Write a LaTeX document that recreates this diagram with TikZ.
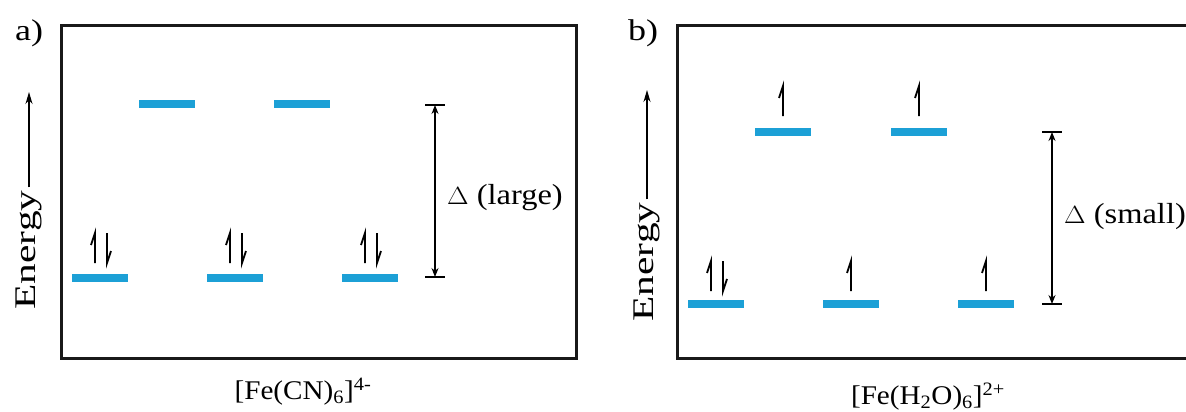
\documentclass[tikz,border=0pt]{standalone}
\usepackage{fontspec}
\usepackage{graphicx}
\setmainfont{Liberation Serif}
\usetikzlibrary{arrows.meta}
\definecolor{levelblue}{RGB}{28,160,214}
\newcommand{\wide}[2]{\scalebox{#1}[1]{#2}}
\begin{document}
\begin{tikzpicture}[x=1pt,y=-1pt,
  frame/.style={line width=3pt,draw=black!90},
  level/.style={line width=8pt,draw=levelblue},
  spin/.style={line width=1.8pt,line join=miter},
  gap/.style={line width=1.3pt,{Stealth[length=9pt,width=7pt]}-{Stealth[length=9pt,width=7pt]}},
  tick/.style={line width=1.3pt},
  lbl/.style={font=\fontsize{29}{32}\selectfont,inner sep=0pt},
  sub/.style={font=\fontsize{27}{30}\selectfont,inner sep=0pt},
  panel/.style={font=\fontsize{30}{32}\selectfont,inner sep=0pt},
  energy/.style={font=\fontsize{30}{32}\selectfont,inner sep=0pt,rotate=90},
  earrow/.style={line width=1.3pt,-{Stealth[length=12pt,width=7pt]}}]
\clip (0,0) rectangle (1186,412);
\fill[white] (0,0) rectangle (1186,412);
% panel a
\draw[frame] (61,26) rectangle (576,358);
\node[panel] (pa) at (29,33) {\wide{1.2}{a)}};
\node[energy] (ea) at (29,250) {\wide{1.38}{Energy}};
\coordinate (eatip) at (29,92);
\draw[earrow] (ea.east) ++(0,-3) -- (eatip);
\draw[level] (139,104) -- (195,104);
\draw[level] (274,104) -- (330,104);
\draw[level] (72,278) -- (128,278);
\draw[level] (207,278) -- (263,278);
\draw[level] (342,278) -- (398,278);
\foreach \c in {100,235,370}{
  \draw[spin] (\c-5,263) -- (\c-5,233) -- (\c-9,245);
  \draw[spin] (\c+7,233) -- (\c+7,263) -- (\c+11,251);
}
\coordinate (ta) at (435,105);
\coordinate (ba) at (435,277);
\draw[tick] (425,105) -- (445,105);
\draw[tick] (425,277) -- (445,277);
\draw[gap] (ta) -- (ba);
\node[lbl,anchor=west] (dla) at (447,198) {\wide{1.12}{$\Delta$ (large)}};
\node[sub] (fa) at (303,392) {\wide{1.08}{[Fe(CN)\textsubscript{6}]\textsuperscript{4-}}};
% panel b
\draw[frame] (677,26) rectangle (1220,358);
\node[panel] (pb) at (643,33) {\wide{1.2}{b)}};
\node[energy] (eb) at (647,262) {\wide{1.38}{Energy}};
\coordinate (ebtip) at (647,90);
\draw[earrow] (eb.east) ++(0,-3) -- (ebtip);
\draw[level] (755,132) -- (811,132);
\draw[level] (891,132) -- (947,132);
\draw[level] (688,304) -- (744,304);
\draw[level] (823,304) -- (879,304);
\draw[level] (958,304) -- (1014,304);
\foreach \c in {783,919}{
  \draw[spin] (\c,116) -- (\c,86) -- (\c-4,98);
}
\draw[spin] (711,291) -- (711,261) -- (707,273);
\draw[spin] (723,261) -- (723,291) -- (727,279);
\foreach \c in {851,986}{
  \draw[spin] (\c,291) -- (\c,261) -- (\c-4,273);
}
\draw[tick] (1042,132) -- (1062,132);
\draw[tick] (1042,304) -- (1062,304);
\coordinate (tb) at (1052,132);
\coordinate (bb) at (1052,304);
\draw[gap] (tb) -- (bb);
\node[lbl,anchor=west] (dlb) at (1064,217) {\wide{1.12}{$\Delta$ (small)}};
\node[sub] (fb) at (928,397) {\wide{1.08}{[Fe(H\textsubscript{2}O)\textsubscript{6}]\textsuperscript{2+}}};
\end{tikzpicture}
\end{document}
